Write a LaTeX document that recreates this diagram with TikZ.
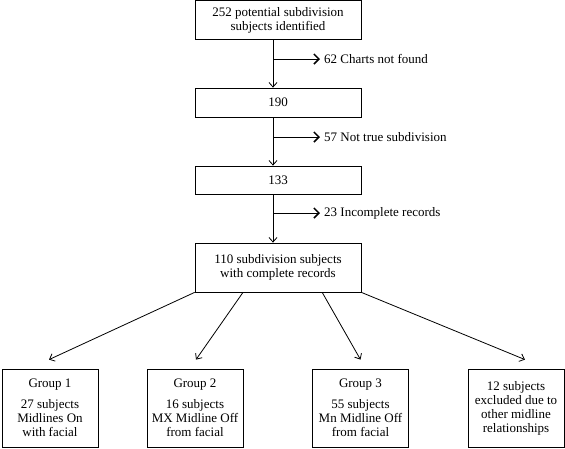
\documentclass[tikz,border=0pt]{standalone}
\usepackage{fontspec}
\setmainfont{Liberation Serif}
\usetikzlibrary{arrows.meta,calc}
\begin{document}
\begin{tikzpicture}[x=1pt,y=-1pt,
    flowBox/.style={draw,thick,align=center,font=\fontsize{13}{14}\selectfont,inner sep=2pt},
    topBox/.style={flowBox,minimum width=166pt},
    grpBox/.style={flowBox,minimum width=96pt,minimum height=78pt},
    flowArr/.style={-{Straight Barb[length=4.5pt,width=8pt]},thick},
    sideArr/.style={-{Straight Barb[length=5pt,width=10pt,line width=1.5pt]},thick},
    sideLbl/.style={anchor=west,font=\fontsize{13}{14}\selectfont,inner sep=4pt},
]
\useasboundingbox (0,0) rectangle (565,448);
% Main column
\node[topBox,minimum height=39pt] (b1) at (278,20) {252 potential subdivision\\subjects identified};
\node[topBox,minimum height=29pt] (b2) at (278,102.5) {190};
\node[topBox,minimum height=28pt] (b3) at (278,180) {133};
\node[topBox,minimum height=49pt] (b4) at (278,267.5) {110 subdivision subjects\\with complete records};
\coordinate (trunk) at (273,0);
% Exclusions
\coordinate (j1) at (273,59);
\coordinate (j2) at (273,137);
\coordinate (j3) at (273,213);
\node[sideLbl] (x1) at (320,59) {62 Charts not found};
\node[sideLbl] (x2) at (320,137) {57 Not true subdivision};
\node[sideLbl] (x3) at (320,213) {23 Incomplete records};
\draw[flowArr] (b1.south -| trunk) -- (b2.north -| trunk);
\draw[flowArr] (b2.south -| trunk) -- (b3.north -| trunk);
\draw[flowArr] (b3.south -| trunk) -- (b4.north -| trunk);
\draw[sideArr] (j1) -- (x1.west);
\draw[sideArr] (j2) -- (x2.west);
\draw[sideArr] (j3) -- (x3.west);
% Groups
\node[grpBox] (g1) at (50,408) {Group 1\\[7pt]27 subjects\\Midlines On\\with facial};
\node[grpBox] (g2) at (195,408) {Group 2\\[7pt]16 subjects\\MX Midline Off\\from facial};
\node[grpBox] (g3) at (360.5,408) {Group 3\\[7pt]55 subjects\\Mn Midline Off\\from facial};
\node[grpBox] (g4) at (516,408) {12 subjects\\excluded due to\\other midline\\relationships};
\draw[flowArr] (b4.south west) -- ([xshift=-1pt,yshift=9pt]g1.north);
\draw[flowArr] ($(b4.south west)!0.29!(b4.south east)$) -- ([xshift=1pt,yshift=9pt]g2.north);
\draw[flowArr] ($(b4.south west)!0.765!(b4.south east)$) -- ([yshift=9pt]g3.north);
\draw[flowArr] (b4.south east) -- ([xshift=9pt,yshift=9pt]g4.north);
\end{tikzpicture}
\end{document}
